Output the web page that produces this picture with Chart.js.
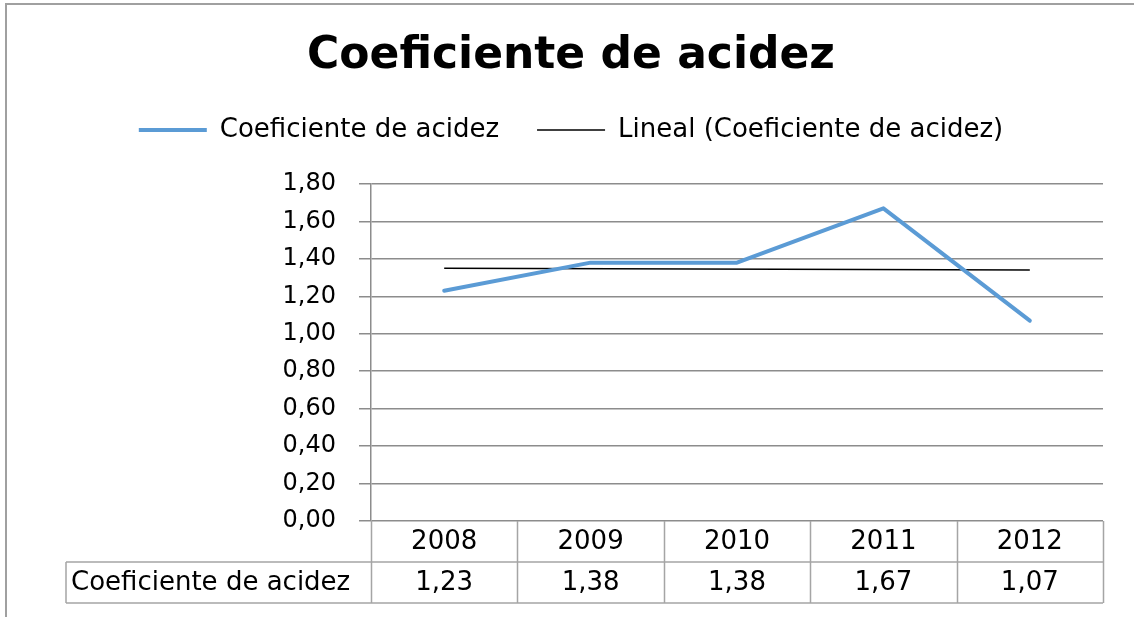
<!DOCTYPE html>
<html>
<head>
<meta charset="utf-8">
<script src="https://cdn.jsdelivr.net/npm/chart.js@4"></script>
<style>
    html, body { margin: 0; padding: 0; background: #fff; }
    #wrap { width: 1134px; height: 617px; }
</style>
</head>
<body>
<div id="wrap"><canvas id="chart" width="1134" height="617"></canvas></div>
<script>
// Chart data
const years = ['2008', '2009', '2010', '2011', '2012'];
const acidez = [1.23, 1.38, 1.38, 1.67, 1.07];
// Trend line at first and last year
const tendencia = [1.35, null, null, null, 1.34];
const yTicks = [0, 0.2, 0.4, 0.6, 0.8, 1.0, 1.2, 1.4, 1.6, 1.8];

const serieLabel = 'Coeficiente de acidez';
const trendLabel = 'Lineal (Coeficiente de acidez)';
const FONT = "'DejaVu Sans', sans-serif";

function fmt(v) {
    return v.toFixed(2).replace('.', ',');
}

// Outer frame and white background
const framePlugin = {
    id: 'frame',
    beforeDraw(chart) {
        const ctx = chart.ctx;
        ctx.save();
        ctx.fillStyle = '#fff';
        ctx.fillRect(0, 0, chart.width, chart.height);
        ctx.strokeStyle = '#a0a0a0';
        ctx.lineWidth = 2;
        ctx.beginPath();
        ctx.moveTo(6, chart.height);
        ctx.lineTo(6, 4);
        ctx.lineTo(chart.width, 4);
        ctx.stroke();
        ctx.restore();
    }
};

// Push the plot down below the legend
const legendSpace = {
    id: 'legendSpace',
    beforeInit(chart) {
        const fit = chart.legend.fit;
        chart.legend.fit = function () {
            fit.bind(chart.legend)();
            this.height += 31;
        };
    }
};

// Data table under the plot
const tablePlugin = {
    id: 'dataTable',
    afterDraw(chart) {
        const ctx = chart.ctx;
        const area = chart.chartArea;
        const x = chart.scales.x;
        const colW = (area.right - area.left) / years.length;
        const rowH = 41;
        const r1 = area.bottom + rowH;
        const r2 = r1 + rowH;
        const labelLeft = 66;

        ctx.save();
        ctx.strokeStyle = '#a5a5a5';
        ctx.lineWidth = 1.5;
        ctx.beginPath();
        for (let i = 0; i <= years.length; i++) {
            const bx = Math.round(area.left + i * colW) + 0.5;
            ctx.moveTo(bx, area.bottom);
            ctx.lineTo(bx, r2);
        }
        ctx.moveTo(labelLeft, r1);
        ctx.lineTo(area.right, r1);
        ctx.moveTo(labelLeft, r2);
        ctx.lineTo(area.right, r2);
        ctx.moveTo(labelLeft, r1);
        ctx.lineTo(labelLeft, r2);
        ctx.stroke();

        ctx.fillStyle = '#000';
        ctx.font = '26px ' + FONT;
        ctx.textBaseline = 'middle';
        ctx.textAlign = 'center';
        years.forEach((yr, i) => {
            const cx = x.getPixelForValue(i);
            ctx.fillText(yr, cx, area.bottom + rowH / 2 + 1);
            ctx.fillText(fmt(acidez[i]), cx, r1 + rowH / 2 + 1);
        });
        ctx.textAlign = 'left';
        ctx.fillText(serieLabel, labelLeft + 5, r1 + rowH / 2 + 1);
        ctx.restore();
    }
};

new Chart(document.getElementById('chart').getContext('2d'), {
    type: 'line',
    data: {
        labels: years,
        datasets: [
            {
                label: serieLabel,
                data: acidez,
                borderColor: '#5b9bd5',
                backgroundColor: '#5b9bd5',
                borderWidth: 4,
                pointRadius: 0,
                tension: 0,
                borderCapStyle: 'round',
                borderJoinStyle: 'round'
            },
            {
                label: trendLabel,
                data: tendencia,
                borderColor: '#000',
                backgroundColor: '#000',
                borderWidth: 1.5,
                pointRadius: 0,
                spanGaps: true
            }
        ]
    },
    options: {
        responsive: false,
        animation: false,
        layout: {
            padding: { top: 0, left: 39, right: 31, bottom: 96 }
        },
        plugins: {
            title: {
                display: true,
                text: 'Coeficiente de acidez',
                color: '#000',
                font: { family: FONT, size: 44, weight: 'bold', lineHeight: 1 },
                padding: { top: 35, bottom: 0 }
            },
            legend: {
                display: true,
                position: 'top',
                labels: {
                    color: '#000',
                    font: { family: FONT, size: 26 },
                    usePointStyle: true,
                    pointStyle: 'line',
                    pointStyleWidth: 68,
                    padding: 38
                }
            },
            tooltip: { enabled: false }
        },
        scales: {
            x: {
                display: false,
                offset: true
            },
            y: {
                min: 0,
                max: 1.8,
                afterFit(scale) {
                    scale.width = 332;
                },
                afterBuildTicks(scale) {
                    scale.ticks = yTicks.map(v => ({ value: v }));
                },
                ticks: {
                    color: '#000',
                    font: { family: FONT, size: 24 },
                    padding: 23,
                    callback: v => fmt(v)
                },
                grid: {
                    color: '#8c8c8c',
                    lineWidth: 1.5,
                    tickLength: 12
                },
                border: { color: '#8c8c8c', width: 1.5 }
            }
        }
    },
    plugins: [framePlugin, legendSpace, tablePlugin]
});
</script>
</body>
</html>
